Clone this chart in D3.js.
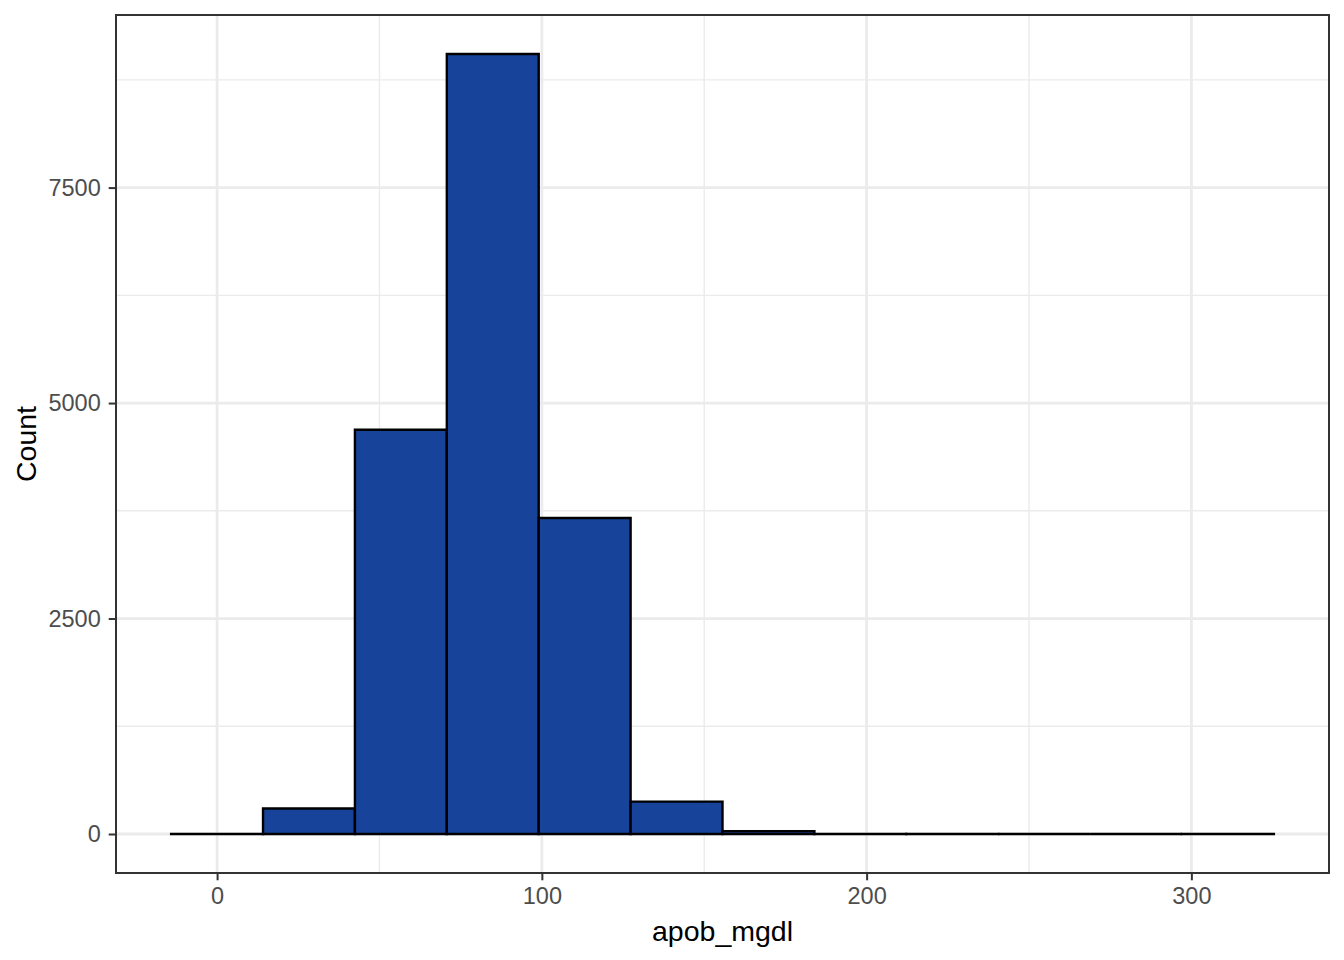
<!DOCTYPE html>
<html>
<head>
<meta charset="utf-8">
<script src="https://cdn.jsdelivr.net/npm/d3@7"></script>
<style>
  html, body { margin: 0; padding: 0; background: #fff; }
  svg { display: block; }
  text { font-family: "Liberation Sans", Arial, sans-serif; }
</style>
</head>
<body>
<svg id="chart" width="1344" height="960"></svg>
<script>
// ---- data ----
const binStart = -14.15;
const binWidth = 28.296;
const binCounts = [1, 295, 4690, 9050, 3667, 376, 33, 2, 1, 0, 0, 1];
const xTicks = [0, 100, 200, 300];
const xMinorTicks = [50, 150, 250];
const yTicks = [0, 2500, 5000, 7500];
const yMinorTicks = [1250, 3750, 6250, 8750];
const xTitle = "apob_mgdl";
const yTitle = "Count";

const bins = binCounts.map((c, i) => ({
  x0: binStart + i * binWidth,
  x1: binStart + (i + 1) * binWidth,
  count: c
}));

// ---- layout ----
const svg = d3.select("#chart");
const panel = { left: 116, top: 15, right: 1329, bottom: 873 };

const xMin = bins[0].x0, xMax = bins[bins.length - 1].x1;
const xPad = (xMax - xMin) * 0.05;
const x = d3.scaleLinear().domain([xMin - xPad, xMax + xPad]).range([panel.left, panel.right]);
const yMaxV = d3.max(binCounts);
const yPad = yMaxV * 0.05;
const y = d3.scaleLinear().domain([-yPad, yMaxV + yPad]).range([panel.bottom, panel.top]);

const g = svg.append("g");

// grid
const grid = g.append("g");
grid.selectAll("line.xminor").data(xMinorTicks).join("line")
  .attr("x1", d => x(d)).attr("x2", d => x(d))
  .attr("y1", panel.top).attr("y2", panel.bottom)
  .attr("stroke", "#EBEBEB").attr("stroke-width", 1.4);
grid.selectAll("line.yminor").data(yMinorTicks).join("line")
  .attr("y1", d => y(d)).attr("y2", d => y(d))
  .attr("x1", panel.left).attr("x2", panel.right)
  .attr("stroke", "#EBEBEB").attr("stroke-width", 1.4);
grid.selectAll("line.xmajor").data(xTicks).join("line")
  .attr("x1", d => x(d)).attr("x2", d => x(d))
  .attr("y1", panel.top).attr("y2", panel.bottom)
  .attr("stroke", "#EBEBEB").attr("stroke-width", 2.8);
grid.selectAll("line.ymajor").data(yTicks).join("line")
  .attr("y1", d => y(d)).attr("y2", d => y(d))
  .attr("x1", panel.left).attr("x2", panel.right)
  .attr("stroke", "#EBEBEB").attr("stroke-width", 2.8);

// bars (as closed paths so zero-height bins still draw their outline)
g.append("g").selectAll("path").data(bins).join("path")
  .attr("d", d => {
    const p = d3.path();
    p.moveTo(x(d.x0), y(0));
    p.lineTo(x(d.x0), y(d.count));
    p.lineTo(x(d.x1), y(d.count));
    p.lineTo(x(d.x1), y(0));
    p.closePath();
    return p.toString();
  })
  .attr("fill", "#17449A")
  .attr("stroke", "#000")
  .attr("stroke-width", 2.4)
  .attr("stroke-linejoin", "miter");

// panel border
g.append("rect")
  .attr("x", panel.left).attr("y", panel.top)
  .attr("width", panel.right - panel.left).attr("height", panel.bottom - panel.top)
  .attr("fill", "none").attr("stroke", "#333333").attr("stroke-width", 2);

// axes
const xAxis = d3.axisBottom(x).tickValues(xTicks).tickSize(7.3).tickPadding(7).tickFormat(d3.format("d"));
const gx = g.append("g").attr("transform", `translate(0,${panel.bottom})`).call(xAxis);
gx.select(".domain").remove();
gx.selectAll(".tick line").attr("stroke", "#333333").attr("stroke-width", 2);
gx.selectAll(".tick text").attr("fill", "#4D4D4D").style("font-size", "23.5px")
  .style("font-family", "'Liberation Sans', Arial, sans-serif");

const yAxis = d3.axisLeft(y).tickValues(yTicks).tickSize(7.3).tickPadding(8).tickFormat(d3.format("d"));
const gy = g.append("g").attr("transform", `translate(${panel.left},0)`).call(yAxis);
gy.select(".domain").remove();
gy.selectAll(".tick line").attr("stroke", "#333333").attr("stroke-width", 2);
gy.selectAll(".tick text").attr("fill", "#4D4D4D").style("font-size", "23.5px")
  .style("font-family", "'Liberation Sans', Arial, sans-serif");

// titles
svg.append("text")
  .attr("x", (panel.left + panel.right) / 2).attr("y", 941)
  .attr("text-anchor", "middle").attr("fill", "#000")
  .style("font-size", "28.5px").text(xTitle);
svg.append("text")
  .attr("transform", `translate(36,${(panel.top + panel.bottom) / 2}) rotate(-90)`)
  .attr("text-anchor", "middle").attr("fill", "#000")
  .style("font-size", "28.5px").text(yTitle);
</script>
</body>
</html>
